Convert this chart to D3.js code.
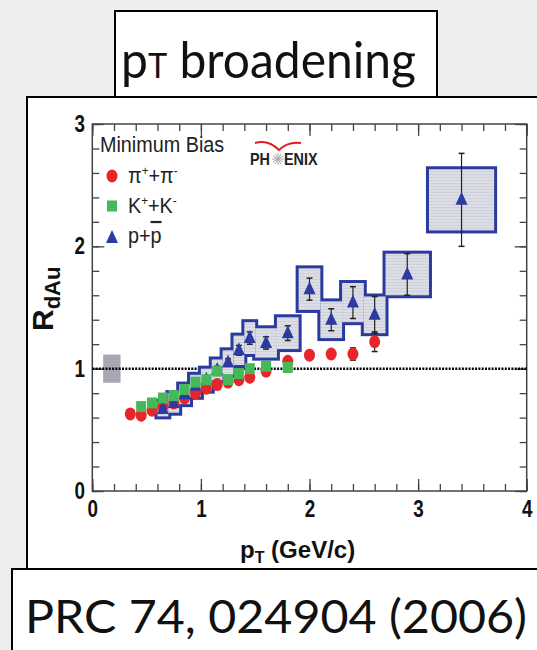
<!DOCTYPE html>
<html lang="en">
<head>
<meta charset="utf-8">
<title>pT broadening</title>
<script src="https://d3js.org/d3.v7.min.js"></script>
<style>
  html, body { margin: 0; padding: 0; background: #eeeeee; }
  svg { display: block; }
</style>
</head>
<body>
<svg id="chart" width="537" height="650"></svg>
<script>
// pi+ + pi-
const piPt  = [0.35, 0.45, 0.55, 0.65, 0.75, 0.85, 0.95, 1.05, 1.15, 1.25, 1.35, 1.45, 1.6, 1.8, 2.0, 2.2, 2.4, 2.6];
const piR   = [0.63, 0.62, 0.66, 0.69, 0.72, 0.76, 0.80, 0.84, 0.87, 0.89, 0.91, 0.93, 0.98, 1.06, 1.11, 1.12, 1.12, 1.22];
const piErr = [0.01, 0.01, 0.01, 0.01, 0.01, 0.01, 0.01, 0.01, 0.01, 0.01, 0.01, 0.01, 0.01, 0.02, 0.02, 0.03, 0.05, 0.08];

// K+ + K-
const kPt = [0.45, 0.55, 0.65, 0.75, 0.85, 0.95, 1.05, 1.15, 1.25, 1.35, 1.45, 1.6, 1.8];
const kR  = [0.69, 0.72, 0.76, 0.78, 0.83, 0.89, 0.91, 0.98, 0.91, 0.96, 1.00, 1.02, 1.01];

// p + pbar
const pPt   = [0.65, 0.75, 0.85, 0.95, 1.05, 1.15, 1.25, 1.35, 1.45, 1.6, 1.8, 2.0, 2.2, 2.4, 2.6, 2.9, 3.4];
const pR    = [0.67, 0.72, 0.79, 0.86, 0.91, 0.99, 1.05, 1.15, 1.25, 1.21, 1.29, 1.65, 1.40, 1.54, 1.44, 1.77, 2.38];
const pStat = [0.02, 0.02, 0.02, 0.02, 0.02, 0.03, 0.03, 0.04, 0.05, 0.05, 0.06, 0.09, 0.09, 0.13, 0.15, 0.17, 0.38];
const pSys  = [0.06, 0.08, 0.08, 0.09, 0.09, 0.085, 0.10, 0.12, 0.13, 0.12, 0.13, 0.17, 0.15, 0.16, 0.15, 0.17, 0.25];
const pBinEdges = [0.6, 0.7, 0.8, 0.9, 1.0, 1.1, 1.2, 1.3, 1.4, 1.5, 1.7, 1.9, 2.1, 2.3, 2.5, 2.7, 3.1, 3.7];

// normalisation box at R = 1
const normBox = [0.1, 0.26, 0.885, 1.115];

const xTicks = [0, 1, 2, 3, 4];
const yTicks = [0, 1, 2, 3];

const svg = d3.select("#chart");

// pattern fills for boxes
const defs = svg.append("defs");
const pat = defs.append("pattern").attr("id", "sysfill")
  .attr("patternUnits", "userSpaceOnUse").attr("width", 4).attr("height", 3);
pat.append("rect").attr("width", 4).attr("height", 3).attr("fill", "#dddee3");
pat.append("rect").attr("width", 4).attr("height", 1).attr("fill", "#cdd1dd");
const pat2 = defs.append("pattern").attr("id", "normfill")
  .attr("patternUnits", "userSpaceOnUse").attr("width", 4).attr("height", 3);
pat2.append("rect").attr("width", 4).attr("height", 3).attr("fill", "#a3a7b3");
pat2.append("rect").attr("width", 4).attr("height", 1).attr("fill", "#b3a6b6");

// panels
svg.append("rect").attr("x", 27).attr("y", 97).attr("width", 540).attr("height", 500)
  .attr("fill", "#fff").attr("stroke", "#000").attr("stroke-width", 2);
svg.append("rect").attr("x", 115).attr("y", 11).attr("width", 322).attr("height", 86)
  .attr("fill", "#fff").attr("stroke", "#000").attr("stroke-width", 2);
svg.append("rect").attr("x", 12).attr("y", 569).attr("width", 540).attr("height", 120)
  .attr("fill", "#fff").attr("stroke", "#000").attr("stroke-width", 2);

const title = svg.append("text").attr("x", 121).attr("y", 78)
  .attr("font-family", "Lato").attr("font-size", 50).attr("fill", "#111")
  .attr("textLength", 295).attr("lengthAdjust", "spacingAndGlyphs");
title.append("tspan").text("p");
title.append("tspan").attr("font-size", 34).text("T");
title.append("tspan").text(" broadening");

svg.append("text").attr("x", 25).attr("y", 633)
  .attr("font-family", "Lato").attr("font-size", 47).attr("fill", "#111")
  .attr("textLength", 502).attr("lengthAdjust", "spacingAndGlyphs")
  .text("PRC 74, 024904 (2006)");

// scales
const x = d3.scaleLinear().domain([0, 4]).range([92.3, 526.7]);
const y = d3.scaleLinear().domain([0, 3]).range([491, 124]);

const plot = svg.append("g");
const axisColor = "#444";

function minorTicks(lo, hi) { return d3.range(lo, hi + 0.001, 0.2).map(v => +v.toFixed(2)); }

// bottom
plot.append("g").attr("transform", `translate(0,${y(0)})`)
  .call(d3.axisBottom(x).tickValues(minorTicks(0, 4)).tickSize(-7).tickFormat(""));
plot.append("g").attr("class", "xmaj").attr("transform", `translate(0,${y(0)})`)
  .call(d3.axisBottom(x).tickValues(xTicks).tickSize(-12).tickPadding(10).tickFormat(d3.format("d")));
// top
plot.append("g").attr("transform", `translate(0,${y(3)})`)
  .call(d3.axisTop(x).tickValues(minorTicks(0, 4)).tickSize(-7).tickFormat(""));
plot.append("g").attr("transform", `translate(0,${y(3)})`)
  .call(d3.axisTop(x).tickValues(xTicks).tickSize(-12).tickFormat(""));
// left
plot.append("g").attr("transform", `translate(${x(0)},0)`)
  .call(d3.axisLeft(y).tickValues(minorTicks(0, 3)).tickSize(-7).tickFormat(""));
plot.append("g").attr("class", "ymaj").attr("transform", `translate(${x(0)},0)`)
  .call(d3.axisLeft(y).tickValues(yTicks).tickSize(-12).tickPadding(9).tickFormat(d3.format("d")));
// right
plot.append("g").attr("transform", `translate(${x(4)},0)`)
  .call(d3.axisRight(y).tickValues(minorTicks(0, 3)).tickSize(-7).tickFormat(""));
plot.append("g").attr("transform", `translate(${x(4)},0)`)
  .call(d3.axisRight(y).tickValues(yTicks).tickSize(-12).tickFormat(""));

plot.selectAll(".domain").remove();
plot.selectAll(".tick line").attr("stroke", axisColor).attr("stroke-width", 1.3);
plot.selectAll(".xmaj text, .ymaj text")
  .attr("font-family", "Liberation Sans, Arial, sans-serif").attr("font-weight", "bold")
  .attr("font-size", 23).attr("fill", "#111").attr("transform", "scale(0.82,1)");

plot.append("rect").attr("x", x(0)).attr("y", y(3))
  .attr("width", x(4) - x(0)).attr("height", y(0) - y(3))
  .attr("fill", "none").attr("stroke", axisColor).attr("stroke-width", 1.5);

// axis titles
const xt = svg.append("text").attr("x", 240).attr("y", 558)
  .attr("font-family", "Liberation Sans, Arial, sans-serif").attr("font-weight", "bold")
  .attr("font-size", 24).attr("fill", "#111");
xt.append("tspan").text("p");
xt.append("tspan").attr("font-size", 16).attr("dy", 5).text("T");
xt.append("tspan").attr("dy", -5).text(" (GeV/c)");

const yt = svg.append("text").attr("transform", "translate(53,331) rotate(-90)")
  .attr("font-family", "Liberation Sans, Arial, sans-serif").attr("font-weight", "bold")
  .attr("font-size", 30).attr("fill", "#111");
yt.append("tspan").text("R");
yt.append("tspan").attr("font-size", 22).attr("dy", 7).text("dAu");

// normalisation box
plot.append("rect").attr("x", x(normBox[0])).attr("y", y(normBox[3]))
  .attr("width", x(normBox[1]) - x(normBox[0])).attr("height", y(normBox[2]) - y(normBox[3]))
  .attr("fill", "url(#normfill)");

// R = 1 reference line
plot.append("line").attr("x1", x(0)).attr("x2", x(4)).attr("y1", y(1)).attr("y2", y(1))
  .attr("stroke", "#000").attr("stroke-width", 2.5).attr("stroke-dasharray", "2,1.3");

// proton systematic boxes: outline pass then fill pass gives a merged outline
const pData = pPt.map((pt, i) => ({pt, r: pR[i], stat: pStat[i], sys: pSys[i],
  lo: pBinEdges[i], hi: pBinEdges[i + 1]}));
const boxAttrs = sel => sel.attr("x", d => x(d.lo)).attr("y", d => y(d.r + d.sys))
  .attr("width", d => x(d.hi) - x(d.lo)).attr("height", d => y(d.r - d.sys) - y(d.r + d.sys));
plot.append("g").selectAll("rect").data(pData).join("rect").call(boxAttrs)
  .attr("fill", "#2b3a9e").attr("stroke", "#2b3a9e").attr("stroke-width", 6)
  .attr("stroke-linejoin", "miter");
plot.append("g").selectAll("rect").data(pData).join("rect").call(boxAttrs)
  .attr("fill", "url(#sysfill)");

// pions
const piData = piPt.map((pt, i) => ({pt, r: piR[i], err: piErr[i]}));
const errBar = (g, data, key) => {
  g.selectAll("line.v").data(data).join("line").attr("class", "v")
    .attr("x1", d => x(d.pt)).attr("x2", d => x(d.pt))
    .attr("y1", d => y(d.r + d[key])).attr("y2", d => y(d.r - d[key]))
    .attr("stroke", "#222").attr("stroke-width", 1.2);
  g.selectAll("line.t").data(data).join("line").attr("class", "t")
    .attr("x1", d => x(d.pt) - 3).attr("x2", d => x(d.pt) + 3)
    .attr("y1", d => y(d.r + d[key])).attr("y2", d => y(d.r + d[key]))
    .attr("stroke", "#222").attr("stroke-width", 1.5);
  g.selectAll("line.b").data(data).join("line").attr("class", "b")
    .attr("x1", d => x(d.pt) - 3).attr("x2", d => x(d.pt) + 3)
    .attr("y1", d => y(d.r - d[key])).attr("y2", d => y(d.r - d[key]))
    .attr("stroke", "#222").attr("stroke-width", 1.5);
};
const piG = plot.append("g");
piG.call(errBar, piData, "err");
piG.selectAll("ellipse").data(piData).join("ellipse")
  .attr("cx", d => x(d.pt)).attr("cy", d => y(d.r))
  .attr("rx", 5.5).attr("ry", 6.5).attr("fill", "#e8262a");

// protons
const triPath = "M0,-8L6,5L-6,5Z";
const pG = plot.append("g");
pG.call(errBar, pData, "stat");
pG.selectAll("path").data(pData).join("path")
  .attr("d", triPath).attr("transform", d => `translate(${x(d.pt)},${y(d.r)})`)
  .attr("fill", "#2e3aa3");

// kaons
const kData = kPt.map((pt, i) => ({pt, r: kR[i]}));
plot.append("g").selectAll("rect").data(kData).join("rect")
  .attr("x", d => x(d.pt) - 5).attr("y", d => y(d.r) - 5.5)
  .attr("width", 10).attr("height", 11).attr("fill", "#45b85a");

// legend
const leg = svg.append("g").attr("font-family", "Liberation Sans, Arial, sans-serif")
  .attr("fill", "#222");
leg.append("text").attr("x", 100).attr("y", 152).attr("font-size", 22)
  .attr("transform", "translate(10,0) scale(0.9,1)").text("Minimum Bias");
leg.append("ellipse").attr("cx", 112).attr("cy", 176).attr("rx", 5.5).attr("ry", 6.5).attr("fill", "#e8262a");
leg.append("rect").attr("x", 107).attr("y", 200.5).attr("width", 10).attr("height", 11).attr("fill", "#45b85a");
leg.append("path").attr("d", triPath).attr("transform", "translate(112,238)").attr("fill", "#2e3aa3");

function legText(yPos) {
  return leg.append("text").attr("x", 128).attr("y", yPos).attr("font-size", 22)
    .attr("transform", "translate(12.8,0) scale(0.9,1)");
}
const t1 = legText(183);
t1.append("tspan").text("π");
t1.append("tspan").attr("font-size", 13).attr("dy", -8).text("+");
t1.append("tspan").attr("dy", 8).text("+π");
t1.append("tspan").attr("font-size", 13).attr("dy", -8).text("-");
const t2 = legText(213);
t2.append("tspan").text("K");
t2.append("tspan").attr("font-size", 13).attr("dy", -8).text("+");
t2.append("tspan").attr("dy", 8).text("+K");
t2.append("tspan").attr("font-size", 13).attr("dy", -8).text("-");
const t3 = legText(243);
t3.append("tspan").text("p+");
t3.append("tspan").attr("text-decoration", "overline").text("p");

// PHENIX logo
const logo = svg.append("g");
logo.append("path").attr("d", "M255,143 Q268,139 279,150 Q288,141 301,143")
  .attr("fill", "none").attr("stroke", "#e01e24").attr("stroke-width", 2);
logo.append("text").attr("x", 250).attr("y", 165).attr("font-family", "Liberation Sans, Arial, sans-serif")
  .attr("font-weight", "bold").attr("font-size", 16).attr("fill", "#222")
  .attr("transform", "translate(25,0) scale(0.9,1)").text("PH");
logo.append("text").attr("x", 284).attr("y", 165).attr("font-family", "Liberation Sans, Arial, sans-serif")
  .attr("font-weight", "bold").attr("font-size", 16).attr("fill", "#222")
  .attr("transform", "translate(28.4,0) scale(0.9,1)").text("ENIX");
for (let a = 0; a < 12; a++) {
  const ang = a * Math.PI / 6;
  logo.append("line").attr("x1", 278).attr("y1", 159)
    .attr("x2", 278 + 6 * Math.cos(ang)).attr("y2", 159 + 6 * Math.sin(ang))
    .attr("stroke", "#aaa").attr("stroke-width", 1);
}
</script>
</body>
</html>
